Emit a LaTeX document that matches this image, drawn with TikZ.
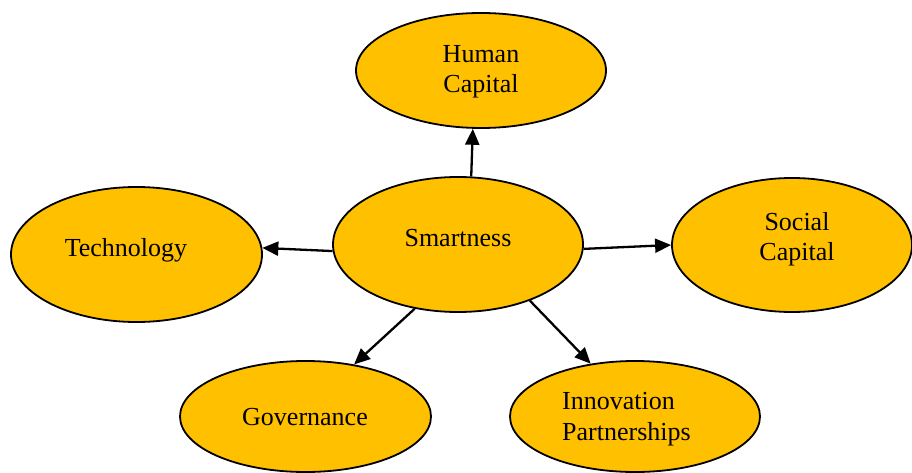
\documentclass[tikz,border=0pt]{standalone}
\usepackage{fontspec}
\setmainfont{Liberation Serif}
\usetikzlibrary{shapes.geometric,arrows.meta}
\definecolor{gold}{HTML}{FFC000}
\tikzset{
  ell/.style={ellipse, draw=black, fill=gold, line width=1.8pt, inner sep=0pt},
  lbl/.style={font=\fontsize{26}{31}\selectfont, inner sep=0pt, anchor=base},
  arr/.style={-{Triangle[length=16pt,width=14pt]}, line width=2.3pt, black}
}
\begin{document}
\begin{tikzpicture}[x=1pt,y=-1pt]
\useasboundingbox (0,0) rectangle (912,473);
% ellipses
\node[ell, minimum width=250pt, minimum height=115pt] (hc) at (481,70.5) {};
\node[ell, minimum width=250pt, minimum height=135pt] (sm) at (458,244.5) {};
\node[ell, minimum width=251pt, minimum height=135pt] (te) at (136.5,254.5) {};
\node[ell, minimum width=240pt, minimum height=134pt] (sc) at (792,245) {};
\node[ell, minimum width=251pt, minimum height=111pt] (go) at (305.5,416.5) {};
\node[ell, minimum width=250pt, minimum height=111pt] (ip) at (635,416.5) {};
% labels
\node[lbl] (hc1) at (481,63) {Human};
\node[lbl] (hc2) at (481,93) {Capital};
\node[lbl] (smt) at (458,246) {Smartness};
\node[lbl] (tet) at (126,256) {Technology};
\node[lbl] (sc1) at (797,230) {Social};
\node[lbl] (sc2) at (797,260) {Capital};
\node[lbl] (got) at (305,425) {Governance};
\node[lbl, anchor=base west] (ip1) at (562,409) {Innovation};
\node[lbl, anchor=base west] (ip2) at (562,440) {Partnerships};
% connectors
\draw[arr] (sm.79) -- (hc.262);
\draw[arr] (sm.183.4) -- (te.3.4);
\draw[arr] (sm.358.4) -- (sc.180.5);
\draw[arr] (sm.236.7) -- (go.47.1);
\draw[arr] (sm.322.9) -- (ip.130.7);
\end{tikzpicture}
\end{document}
